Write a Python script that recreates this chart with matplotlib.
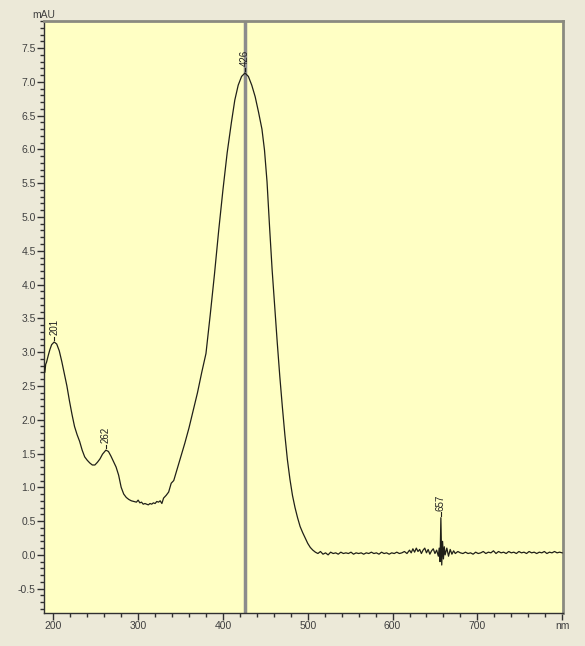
import numpy as np
import matplotlib
matplotlib.use('Agg')
import matplotlib.pyplot as plt
from matplotlib.ticker import MultipleLocator, FixedLocator, FixedFormatter

plt.rcParams['font.family'] = ['Liberation Sans', 'DejaVu Sans']
plt.rcParams['axes.unicode_minus'] = False

# spectrum (nm, mAU)
wavelength = [188, 189, 190, 191, 192, 194, 196, 198, 201, 204, 207, 210, 213, 216, 219, 222,
              225, 228, 231, 234, 237, 240, 243, 246, 249, 252, 255, 258, 262, 265, 268, 271,
              274, 277, 280, 283, 286, 289, 292, 295, 298, 300, 302, 304, 306, 308, 310, 312,
              314, 316, 318, 320, 322, 324, 326, 328, 330, 333, 336, 339, 342, 346, 350, 355,
              360, 365, 370, 375, 380, 385, 390, 395, 400, 405, 410, 414, 418, 422, 426, 430,
              434, 438, 442, 446, 449, 452, 455, 458, 461, 464, 467, 470, 473, 476, 479, 482,
              485, 488, 491, 494, 497, 500, 503, 506, 509,
              512, 515, 518, 521, 524, 527, 530, 533, 536, 539, 542, 545, 548, 551, 554, 557,
              560, 563, 566, 569, 572, 575, 578, 581, 584, 587, 590, 593, 596, 599, 602, 605,
              608, 611, 614, 617, 620, 622, 624, 626, 628, 630, 632, 634, 636, 638, 640, 642,
              644, 646, 648, 650, 652, 654, 655, 656, 657, 658, 659, 660, 661, 662, 664, 666,
              668, 670, 672, 674, 677, 680, 683, 686, 689, 692, 695, 698, 701, 704, 707, 710,
              713, 716, 719, 722, 725, 728, 731, 734, 737, 740, 743, 746, 749, 752, 755, 758,
              761, 764, 767, 770, 773, 776, 779, 782, 785, 788, 791, 794, 797, 800]
absorbance = [2.64, 2.80, 2.70, 2.82, 2.85, 2.95, 3.04, 3.11, 3.15, 3.12, 3.02, 2.86, 2.68, 2.50, 2.28, 2.08,
              1.90, 1.78, 1.68, 1.55, 1.45, 1.40, 1.36, 1.33, 1.33, 1.37, 1.42, 1.49, 1.55, 1.53, 1.46, 1.38,
              1.30, 1.18, 1.00, 0.90, 0.85, 0.82, 0.80, 0.79, 0.78, 0.81, 0.77, 0.78, 0.75, 0.76, 0.75, 0.74,
              0.76, 0.75, 0.77, 0.76, 0.79, 0.78, 0.80, 0.76, 0.84, 0.88, 0.93, 1.06, 1.10, 1.27, 1.44, 1.65,
              1.88, 2.14, 2.40, 2.70, 2.98, 3.55, 4.15, 4.80, 5.40, 5.95, 6.40, 6.73, 6.95, 7.08, 7.13, 7.08,
              6.95, 6.78, 6.55, 6.30, 5.99, 5.52, 4.85, 4.22, 3.68, 3.15, 2.65, 2.20, 1.78, 1.41, 1.12, 0.88,
              0.70, 0.55, 0.42, 0.33, 0.25, 0.17, 0.11, 0.07, 0.04,
              0.02, 0.05, 0.01, 0.03, 0.00, 0.04, 0.02, 0.03, 0.01, 0.04, 0.02, 0.03, 0.02, 0.04, 0.01, 0.03,
              0.02, 0.03, 0.01, 0.03, 0.02, 0.04, 0.02, 0.03, 0.01, 0.04, 0.02, 0.03, 0.01, 0.03, 0.02, 0.04,
              0.02, 0.03, 0.05, 0.02, 0.07, 0.03, 0.09, 0.04, 0.10, 0.05, 0.08, 0.02, 0.07, 0.10, 0.03, 0.08,
              0.01, 0.06, 0.09, 0.02, 0.07, -0.02, 0.10, -0.10, 0.55, -0.15, 0.20, -0.06, 0.12, 0.00, 0.10, -0.02,
              0.08, 0.01, 0.06, 0.02, 0.05, 0.03, 0.02, 0.04, 0.02, 0.03, 0.01, 0.04, 0.02, 0.03, 0.05, 0.02,
              0.04, 0.03, 0.06, 0.02, 0.05, 0.03, 0.04, 0.02, 0.05, 0.03, 0.04, 0.02, 0.05, 0.03, 0.04, 0.02,
              0.05, 0.03, 0.04, 0.02, 0.04, 0.03, 0.05, 0.02, 0.04, 0.03, 0.05, 0.03, 0.04, 0.03]

peaks = [201, 262, 426, 657]
cursor_nm = 426

xticks = [200, 300, 400, 500, 600, 700, 800]
xtick_labels = ['200', '300', '400', '500', '600', '700', 'nm']
yticks = [-0.5, 0.0, 0.5, 1.0, 1.5, 2.0, 2.5, 3.0, 3.5, 4.0, 4.5, 5.0, 5.5, 6.0, 6.5, 7.0, 7.5]

fig = plt.figure(figsize=(5.85, 6.46), dpi=100, facecolor='#ECE9D8')
ax = fig.add_axes([0.0752, 0.0511, 0.8872, 0.9164])
ax.set_facecolor('#FFFFC4')

ax.axvline(cursor_nm, color='#8C8C8C', lw=2.5, zorder=2)
ax.plot(wavelength, absorbance, color='#202018', lw=0.9, zorder=3)

# peak labels, rotated, with a small dash above each peak
for p in peaks:
    y = absorbance[wavelength.index(p)]
    ax.plot([p, p], [y + 0.03, y + 0.08], color='#202018', lw=0.8, zorder=3)
    ax.text(p, y + 0.1, str(p), rotation=90, ha='center', va='bottom',
            fontsize=7, color='#202020', zorder=4)

ax.set_xlim(189, 801)
ax.set_ylim(-0.86, 7.9)

ax.xaxis.set_major_locator(FixedLocator(xticks))
ax.xaxis.set_major_formatter(FixedFormatter(xtick_labels))
ax.xaxis.set_minor_locator(MultipleLocator(20))
ax.yaxis.set_major_locator(FixedLocator(yticks))
ax.yaxis.set_major_formatter(FixedFormatter(['%.1f' % v for v in yticks]))
ax.yaxis.set_minor_locator(MultipleLocator(0.1))

ax.tick_params(which='major', direction='out', length=5, width=1, color='#303030',
               labelsize=7.5, labelcolor='#404040', pad=1)
ax.tick_params(which='minor', direction='out', length=3, width=1, color='#303030')

for side in ['left', 'bottom']:
    ax.spines[side].set_color('#303030')
    ax.spines[side].set_linewidth(1)
for side in ['top', 'right']:
    ax.spines[side].set_color('#8A8A80')
    ax.spines[side].set_linewidth(2)

fig.text(0.0752, 1 - 15 / 646, 'mAU', ha='center', va='center', fontsize=7.5, color='#404040')

fig.savefig('out.png', dpi=100, facecolor=fig.get_facecolor())
